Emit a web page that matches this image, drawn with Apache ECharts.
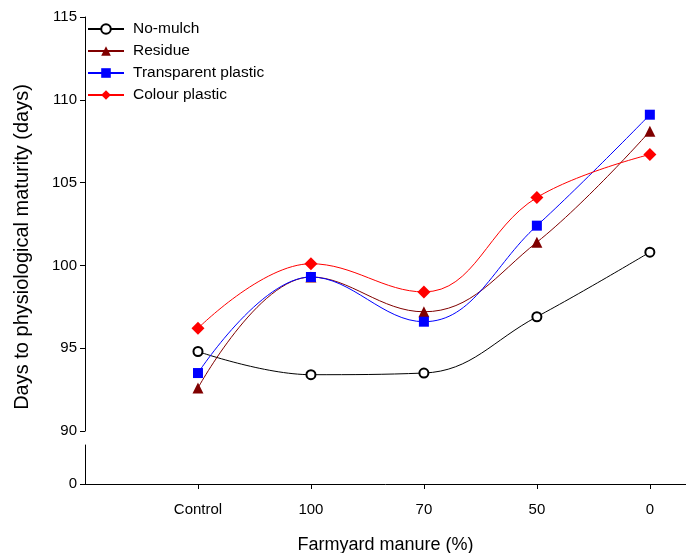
<!DOCTYPE html>
<html>
<head>
<meta charset="utf-8">
<script src="https://cdn.jsdelivr.net/npm/echarts@6/dist/echarts.min.js"></script>
<style>
  html, body { margin: 0; padding: 0; background: #fff; }
  #chart { width: 686px; height: 553px; }
</style>
</head>
<body>
<div id="chart"></div>
<script>
// x positions 1..5 stand for the manure levels
const categories = ["Control", "100", "70", "50", "0"];
const xPos = [1, 2, 3, 4, 5];

const noMulch = [94.8, 93.4, 93.5, 96.9, 100.8];
const residue = [92.6, 99.3, 97.2, 101.4, 108.1];
const transparentPlastic = [93.5, 99.3, 96.6, 102.4, 109.1];
const colourPlastic = [96.2, 100.1, 98.4, 104.1, 106.7];

const yTicks = [90, 95, 100, 105, 110, 115];

const font = "'Liberation Sans', Arial, sans-serif";

function pairs(vals) {
  return vals.map((v, i) => [xPos[i], v]);
}

function mkSeries(name, vals, color, symbol, size) {
  return {
    name: name,
    type: "line",
    smooth: 0.4,
    xAxisIndex: 0,
    yAxisIndex: 0,
    data: pairs(vals),
    symbol: symbol,
    symbolSize: size,
    showAllSymbol: true,
    lineStyle: { color: color, width: 1 },
    itemStyle: symbol === "emptyCircle"
      ? { color: color, borderColor: color, borderWidth: 1 }
      : { color: color, borderWidth: 0 },
    emphasis: { disabled: true },
    z: 3
  };
}

const chart = echarts.init(document.getElementById("chart"));

const yLabelStyle = {
  margin: 8, fontSize: 15, color: "#000", fontFamily: font, verticalAlign: "middle"
};

chart.setOption({
  animation: false,
  backgroundColor: "#fff",
  textStyle: { fontFamily: font, color: "#000" },
  grid: [
    { left: 85, right: 0, top: 17, bottom: 122, outerBoundsMode: "none" },
    { left: 85, right: 0, top: 445, bottom: 69, outerBoundsMode: "none" }
  ],
  legend: {
    orient: "vertical",
    left: 87,
    top: 21,
    padding: 0,
    itemWidth: 36,
    itemHeight: 12,
    itemGap: 6,
    textStyle: { fontFamily: font, fontSize: 15.5, color: "#000", padding: [0, 0, 0, 4] },
    data: ["No-mulch", "Residue", "Transparent plastic", "Colour plastic"]
  },
  xAxis: [
    {
      gridIndex: 0, type: "value", min: 0, max: 5.32,
      show: false
    },
    {
      gridIndex: 1, type: "value", min: 0, max: 5.32, interval: 1,
      axisLine: { show: true, onZero: false, lineStyle: { color: "#000", width: 1 } },
      axisTick: { show: true, length: 5, lineStyle: { color: "#000" }, customValues: xPos },
      axisLabel: {
        customValues: xPos,
        margin: 18,
        fontSize: 15,
        color: "#000",
        fontFamily: font,
        formatter: v => categories[xPos.indexOf(v)] || ""
      },
      splitLine: { show: false },
      name: "Farmyard manure (%)",
      nameLocation: "middle",
      nameGap: 52,
      nameTextStyle: { fontSize: 18, color: "#000", fontFamily: font }
    }
  ],
  yAxis: [
    {
      gridIndex: 0, type: "value", min: 90, max: 115, interval: 5,
      axisLine: { show: true, lineStyle: { color: "#000", width: 1 } },
      axisTick: { show: true, length: 5, lineStyle: { color: "#000" }, customValues: yTicks },
      axisLabel: Object.assign({ customValues: yTicks }, yLabelStyle),
      splitLine: { show: false }
    },
    {
      gridIndex: 1, type: "value", min: 0, max: 1, interval: 1,
      axisLine: { show: true, lineStyle: { color: "#000", width: 1 } },
      axisTick: { show: true, length: 5, lineStyle: { color: "#000" }, customValues: [0] },
      axisLabel: Object.assign({ customValues: [0] }, yLabelStyle),
      splitLine: { show: false }
    }
  ],
  graphic: [
    {
      type: "text",
      rotation: Math.PI / 2,
      x: 22, y: 247,
      style: {
        text: "Days to physiological maturity (days)",
        fontSize: 20,
        fontFamily: font,
        fill: "#000",
        align: "center",
        verticalAlign: "middle"
      }
    }
  ],
  series: [
    mkSeries("No-mulch", noMulch, "#000000", "emptyCircle", 9),
    mkSeries("Residue", residue, "#800000", "triangle", 11),
    mkSeries("Transparent plastic", transparentPlastic, "#0000ff", "rect", 10),
    mkSeries("Colour plastic", colourPlastic, "#ff0000", "diamond", 13)
  ]
});
</script>
</body>
</html>
